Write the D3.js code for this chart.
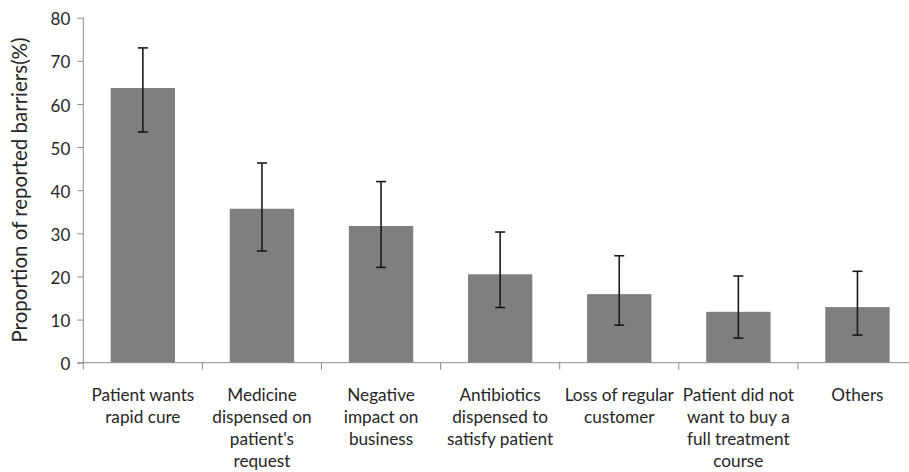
<!DOCTYPE html>
<html><head><meta charset="utf-8">
<script src="https://cdn.jsdelivr.net/npm/d3@7"></script>
<style>
body{margin:0;background:#fff;}
text{font-family:Lato, "Open Sans", sans-serif;fill:#262626;}
</style></head>
<body><svg id="c" width="909" height="472"></svg>
<script>
const categories = [
  ["Patient wants","rapid cure"],
  ["Medicine","dispensed on","patient's","request"],
  ["Negative","impact on","business"],
  ["Antibiotics","dispensed to","satisfy patient"],
  ["Loss of regular","customer"],
  ["Patient did not","want to  buy a","full treatment","course"],
  ["Others"]
];
const values = [63.7, 35.7, 31.7, 20.5, 15.9, 11.8, 12.9];
const errLow = [53.5, 25.9, 22.1, 12.8, 8.7, 5.7, 6.4];
const errHigh = [73.0, 46.3, 42.0, 30.3, 24.8, 20.1, 21.2];
const yTicks = [0,10,20,30,40,50,60,70,80];
const yTitle = "Proportion of reported barriers(%)";

const svg = d3.select("#c");
const ids = categories.map((c,i)=>i);
const x = d3.scaleBand().domain(ids).range([83.3, 917]).paddingInner(0.46).paddingOuter(0.23);
const y = d3.scaleLinear().domain([0,80]).range([362.7, 17.7]);
const step = x.step();
const axisColor = "#8c8c8c";

// bars
svg.selectAll("rect.bar").data(values).join("rect")
  .attr("x",(d,i)=>x(i)).attr("width",x.bandwidth())
  .attr("y",d=>y(d)).attr("height",d=>y(0)-y(d))
  .attr("fill","#7f7f7f");

// y axis
const yAxis = d3.axisLeft(y).tickValues(yTicks).tickSize(6).tickPadding(7);
const gy = svg.append("g").attr("transform","translate(83.3,0)").call(yAxis);
gy.select(".domain").attr("stroke",axisColor).attr("d",`M0,${y(80)}V${y(0)+7}`);
gy.selectAll(".tick line").attr("stroke",axisColor);
gy.selectAll(".tick text").attr("font-size",17).attr("fill","#262626").attr("dy","0.42em")
  .style("font-family","Lato, sans-serif");

// x axis line
const x0 = 83.3, x1 = 909;
svg.append("line").attr("x1",x0-6).attr("x2",x1).attr("y1",y(0)).attr("y2",y(0)).attr("stroke",axisColor);
// boundary ticks
ids.forEach(i=>{
  const bx = x(i) - x.paddingInner()*step/2 + step;
  if (bx < 909) svg.append("line").attr("x1",bx).attr("x2",bx).attr("y1",y(0)).attr("y2",y(0)+7).attr("stroke",axisColor);
});

// error bars
const eg = svg.append("g").attr("stroke","#1a1a1a").attr("stroke-width",1.6);
values.forEach((v,i)=>{
  const cx = x(i)+x.bandwidth()/2;
  eg.append("line").attr("x1",cx).attr("x2",cx).attr("y1",y(errHigh[i])).attr("y2",y(errLow[i]));
  eg.append("line").attr("x1",cx-5).attr("x2",cx+5).attr("y1",y(errHigh[i])).attr("y2",y(errHigh[i]));
  eg.append("line").attr("x1",cx-5).attr("x2",cx+5).attr("y1",y(errLow[i])).attr("y2",y(errLow[i]));
});

// category labels
categories.forEach((lines,i)=>{
  const cx = x(i)+x.bandwidth()/2;
  const t = svg.append("text").attr("text-anchor","middle").attr("font-size",17.2).attr("x",cx).attr("y",401.2);
  lines.forEach((ln,j)=>t.append("tspan").attr("x",cx).attr("y",401.2+j*21.8).text(ln));
});

// y title
svg.append("text").attr("transform","translate(27,190) rotate(-90)").attr("text-anchor","middle")
  .attr("font-size",20.5).text(yTitle);
</script></body></html>
